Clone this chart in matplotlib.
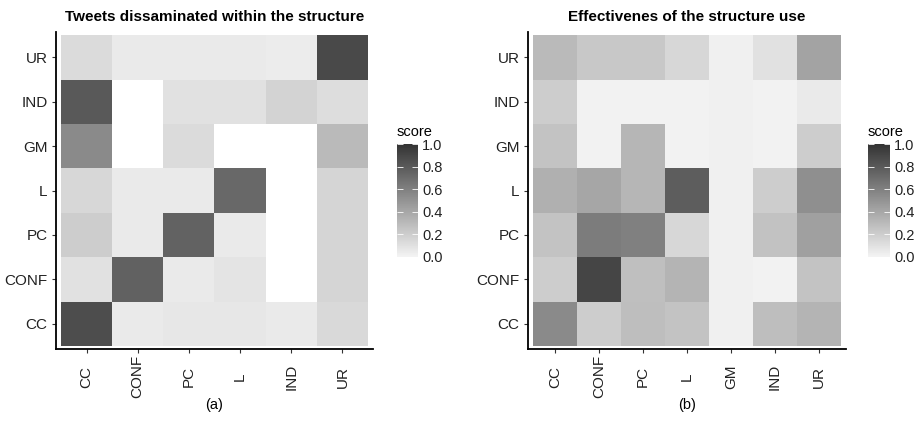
import matplotlib.pyplot as plt
import numpy as np
from matplotlib.colors import LinearSegmentedColormap

plt.rcParams['font.family'] = ['Liberation Sans', 'DejaVu Sans']

# data (rows bottom->top, columns left->right), nan = empty tile
rows = ['CC', 'CONF', 'PC', 'L', 'GM', 'IND', 'UR']
cols_a = ['CC', 'CONF', 'PC', 'L', 'IND', 'UR']
cols_b = ['CC', 'CONF', 'PC', 'L', 'GM', 'IND', 'UR']
nan = np.nan
score_a = [
    [0.86, 0.05, 0.07, 0.07, 0.05, 0.14],
    [0.10, 0.76, 0.05, 0.08, nan, 0.16],
    [0.20, 0.05, 0.75, 0.05, nan, 0.16],
    [0.15, 0.05, 0.05, 0.72, nan, 0.16],
    [0.55, nan, 0.13, nan, nan, 0.30],
    [0.80, nan, 0.10, 0.10, 0.17, 0.12],
    [0.13, 0.05, 0.05, 0.05, 0.04, 0.88],
]
score_b = [
    [0.55, 0.20, 0.28, 0.25, 0.02, 0.28, 0.33],
    [0.20, 0.90, 0.27, 0.33, 0.02, 0.01, 0.25],
    [0.25, 0.62, 0.60, 0.15, 0.02, 0.26, 0.43],
    [0.35, 0.40, 0.32, 0.78, 0.02, 0.20, 0.52],
    [0.25, 0.01, 0.32, 0.01, 0.02, 0.01, 0.20],
    [0.20, 0.01, 0.01, 0.01, 0.02, 0.01, 0.05],
    [0.30, 0.23, 0.23, 0.15, 0.02, 0.10, 0.42],
]
titles = ['Tweets dissaminated within the structure', 'Effectivenes of the structure use']
tags = ['(a)', '(b)']

cmap = LinearSegmentedColormap.from_list('g', ['#f4f4f4', '#333333'])

fig = plt.figure(figsize=(9.19, 4.4), dpi=100, facecolor='white')
W, H = 919, 440
panels = [
    (score_a, cols_a, (56, 373), (397, 418)),
    (score_b, cols_b, (528, 846), (868, 890)),
]
for k, (data, cols, (x0, x1), (c0, c1)) in enumerate(panels):
    ax = fig.add_axes([x0 / W, 91 / H, (x1 - x0) / W, (408 - 91) / H])
    arr = np.array(data, dtype=float)
    nc = len(cols)
    im = ax.imshow(arr, cmap=cmap, vmin=0, vmax=1, origin='lower', aspect='auto',
                   extent=(-0.5, nc - 0.5, -0.5, len(rows) - 0.5), interpolation='nearest')
    pad = 5 / ((x1 - x0 - 10) / nc)
    ax.set_xlim(-0.5 - pad, nc - 0.5 + pad)
    ax.set_ylim(-0.57, len(rows) - 0.43)
    ax.set_xticks(range(nc))
    ax.set_xticklabels(cols, rotation=90, fontsize=11, color='#222222', va='center')
    ax.set_yticks(range(len(rows)))
    ax.set_yticklabels(rows, fontsize=11, color='#222222')
    ax.tick_params(length=3, width=0.8, color='#333333', pad=3)
    ax.tick_params(axis='x', pad=17)
    for s in ['top', 'right']:
        ax.spines[s].set_visible(False)
    for s in ['left', 'bottom']:
        ax.spines[s].set_linewidth(1.3)
        ax.spines[s].set_color('black')
    ax.set_title(titles[k], fontsize=11, fontweight='bold', pad=8)
    fig.text((x0 + x1) / 2 / W, 1 - 405 / H, tags[k], ha='center', va='center', fontsize=10.5)

    cax = fig.add_axes([c0 / W, 1 - 257 / H, (c1 - c0) / W, 113 / H])
    cb = fig.colorbar(im, cax=cax)
    cb.outline.set_visible(False)
    cb.set_ticks([0, 0.2, 0.4, 0.6, 0.8, 1.0])
    cb.set_ticklabels(['0.0', '0.2', '0.4', '0.6', '0.8', '1.0'])
    cax.yaxis.set_ticks_position('both')
    cax.tick_params(direction='in', length=4, width=0.6, color='white', labelsize=10.5, pad=3,
                    labelcolor='#222222', labelleft=False, labelright=True)
    fig.text(c0 / W, 1 - 132 / H, 'score', ha='left', va='center', fontsize=10.5)

fig.savefig('out.png', dpi=100, facecolor='white')
